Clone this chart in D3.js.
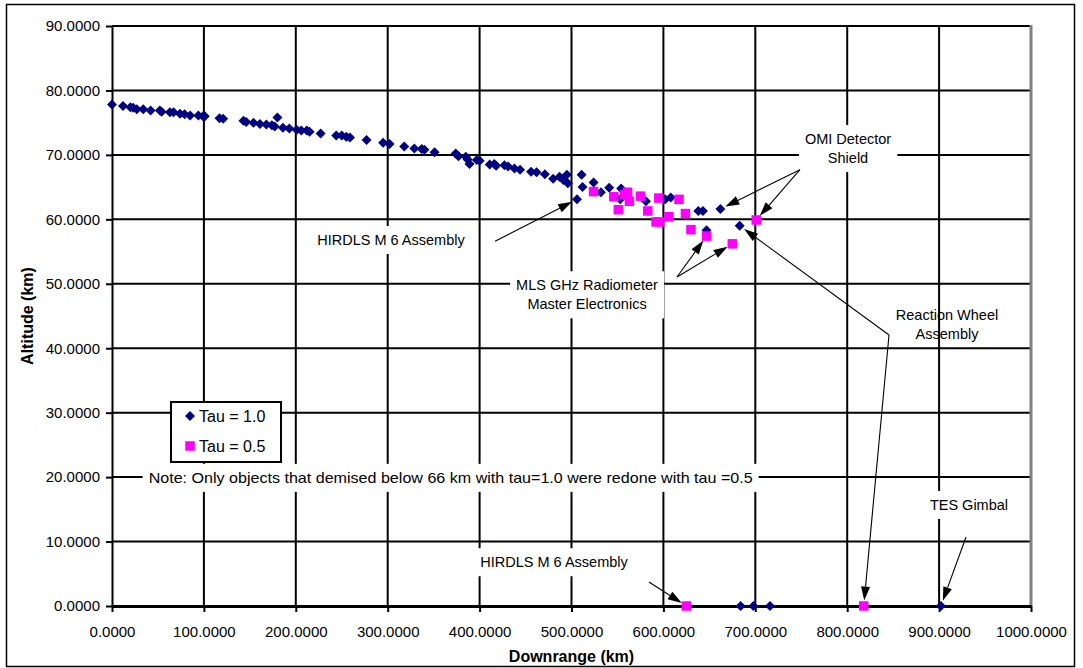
<!DOCTYPE html>
<html><head><meta charset="utf-8">
<script src="https://cdn.jsdelivr.net/npm/d3@7/dist/d3.min.js"></script>
<style>
html,body{margin:0;padding:0;background:#fff;}
svg{display:block;font-family:"Liberation Sans",Arial,Helvetica,sans-serif;}
</style></head><body>
<svg id="chart" width="1083" height="668"></svg>
<script>
// ---------------- data ----------------
const xTicks = [0,100,200,300,400,500,600,700,800,900,1000];
const yTicks = [0,10,20,30,40,50,60,70,80,90];

// Tau = 1.0 series (downrange km, altitude km)
const tau10Km  = [0,12,20,23,27,34,42,52,54,63,67,74,79,85,94,99,101,117,121,143,146,154,161,168,174,177,180,186,193,201,206,212,215,227,244,250,255,259,277,295,302,318,329,337,340,351,374,377,385,387,389,397,400,411,416,418,427,431,438,444,456,462,471,480,487,491,495,496,506,511,512,524,532,541,553,554,581,602,608,638,643,647,662,683,684,698,716,902];
const tau10Alt = [77.8,77.6,77.4,77.3,77.1,77.1,76.9,76.9,76.7,76.6,76.6,76.4,76.3,76.1,76.1,76.0,76.0,75.7,75.6,75.3,75.1,75.0,74.8,74.7,74.6,74.4,75.8,74.2,74.1,73.9,73.8,73.8,73.6,73.3,73.0,73.0,72.8,72.7,72.3,71.9,71.7,71.3,71.0,70.9,70.8,70.4,70.2,69.8,69.7,69.3,68.6,69.2,69.1,68.5,68.6,68.3,68.4,68.2,67.9,67.7,67.4,67.3,67.0,66.3,66.6,66.1,66.9,65.6,63.1,66.9,65.0,65.7,64.2,64.9,63.1,64.8,62.8,63.1,63.4,61.3,61.3,58.3,61.6,59.0,0,0,0,0];

// Tau = 0.5 series
const tau05Km  = [524,546,551,558,561,563,575,583,592,595,596,606,617,624,630,647,675,701,625,818];
const tau05Alt = [64.3,63.5,61.5,63.8,64.2,62.8,63.6,61.3,59.6,63.3,59.6,60.4,63.1,60.9,58.4,57.4,56.2,59.9,0,0];

const seriesNames = ["Tau = 1.0","Tau = 0.5"];

// annotation labels: text lines, label centre (km, alt), arrow origin (km, alt), targets [km, alt]
const annTexts   = [["HIRDLS M 6 Assembly"],["MLS GHz Radiometer","Master Electronics"],["OMI Detector","Shield"],["Reaction Wheel","Assembly"],["TES Gimbal"],["HIRDLS M 6 Assembly"],["Note: Only objects that demised below 66 km with tau=1.0 were redone with tau =0.5"]];
const annCenter  = [[303.6,56.8],[516.9,48.3],[800.9,71.0],[908.6,43.7],[932.5,15.7],[481,6.8],[368.5,19.9]];
const annBoxed   = [true,true,true,false,true,true,true];
const annOrigin  = [[416.8,56.6],[614.8,51.05],[748.6,67.7],[845.5,42.05],[929.3,10.7],[584.3,3.72],null];
const annTargets = [[[506,63.1]],[[647,57.4],[675,56.2]],[[662,61.6],[701,59.9]],[[683,59.0],[818,0]],[[902,0]],[[625,0]],[]];

// ---------------- drawing ----------------
const svg = d3.select("#chart");
const x = d3.scaleLinear().domain([0,1000]).range([112,1031]);
const y = d3.scaleLinear().domain([0,90]).range([606,26]);

svg.append("rect").attr("x",6.5).attr("y",4.5).attr("width",1068).attr("height",662)
  .attr("fill","#fff").attr("stroke","#000").attr("stroke-width",1.5);

// gridlines
const grid = svg.append("g");
grid.selectAll(".vg").data(xTicks.filter(d=>d>0 && d<1000)).join("line")
  .attr("x1",d=>x(d)).attr("x2",d=>x(d)).attr("y1",y(0)).attr("y2",y(90))
  .attr("stroke","#000").attr("stroke-width",2);
grid.selectAll(".hg").data(yTicks.filter(d=>d>0)).join("line")
  .attr("x1",x(0)).attr("x2",x(1000)).attr("y1",d=>y(d)).attr("y2",d=>y(d))
  .attr("stroke","#000").attr("stroke-width",2);
grid.append("line").attr("x1",x(1000)).attr("x2",x(1000)).attr("y1",y(90)-1).attr("y2",y(0))
  .attr("stroke","#808080").attr("stroke-width",3);

// axes
const fmt = d3.format(".4f");
const yAxisG = svg.append("g").attr("transform",`translate(${x(0)},0)`)
  .call(d3.axisLeft(y).tickValues(yTicks).tickFormat(fmt).tickSize(6).tickSizeOuter(0).tickPadding(6));
const xAxisG = svg.append("g").attr("transform",`translate(0,${y(0)})`)
  .call(d3.axisBottom(x).tickValues(xTicks).tickFormat(fmt).tickSize(6).tickSizeOuter(0).tickPadding(14));
[yAxisG,xAxisG].forEach(g=>{
  g.select(".domain").attr("stroke","#000");
  g.selectAll(".tick line").attr("stroke","#000").attr("stroke-width",2);
  g.selectAll("text").attr("fill","#000").attr("font-family","'Liberation Sans',Arial,sans-serif");
});
yAxisG.select(".domain").attr("stroke-width",2);
xAxisG.select(".domain").attr("stroke-width",3);
yAxisG.selectAll("text").attr("font-size",15);
xAxisG.selectAll("text").attr("font-size",15);

// axis titles
svg.append("text").attr("transform",`translate(27,${(y(0)+y(90))/2}) rotate(-90)`)
  .attr("text-anchor","middle").attr("dy","0.35em").attr("font-size",16).attr("font-weight","bold")
  .text("Altitude (km)");
svg.append("text").attr("x",(x(0)+x(1000))/2).attr("y",656).attr("dy","0.35em")
  .attr("text-anchor","middle").attr("font-size",16).attr("font-weight","bold").text("Downrange (km)");

// marker shapes
const R = 5, S = 9.5;
const diamond = `M0,${-R}L${R},0L0,${R}L${-R},0Z`;

// annotations (boxes + text + arrows)
const annG = svg.append("g");
const arrowG = svg.append("g");
function arrow(x1,y1,x2,y2){
  const dx=x2-x1, dy=y2-y1, L=Math.hypot(dx,dy), ux=dx/L, uy=dy/L;
  const tx=x2-ux*5.5, ty=y2-uy*5.5;            // stop at marker edge
  const hl=14, hw=4.5;
  const bx=tx-ux*hl, by=ty-uy*hl;
  arrowG.append("line").attr("x1",x1).attr("y1",y1).attr("x2",bx).attr("y2",by)
    .attr("stroke","#000").attr("stroke-width",1.1);
  arrowG.append("path").attr("d",`M${tx},${ty}L${bx-uy*hw},${by+ux*hw}L${bx+uy*hw},${by-ux*hw}Z`).attr("fill","#000");
}
annTexts.forEach((lines,i)=>{
  const cx = x(annCenter[i][0]), cy = y(annCenter[i][1]);
  const lh = 19;
  const g = annG.append("g");
  const box = g.append("rect").attr("fill","#fff");
  const fs = i===6 ? 14.5 : 14.5;
  lines.forEach((t,j)=>{
    const tt = g.append("text").attr("x",cx).attr("y",cy+(j-(lines.length-1)/2)*lh).attr("dy","0.35em")
      .attr("text-anchor","middle").attr("font-size",fs).attr("fill","#000").text(t);
    if(i===6) tt.attr("textLength",604).attr("lengthAdjust","spacingAndGlyphs");
  });
  if(annBoxed[i]){
    const bb = g.node().getBBox();
    box.attr("x",bb.x-6).attr("y",bb.y-6).attr("width",bb.width+12).attr("height",bb.height+12);
  } else box.remove();
  if(annOrigin[i]){
    const ox=x(annOrigin[i][0]), oy=y(annOrigin[i][1]);
    annTargets[i].forEach(t=>arrow(ox,oy,x(t[0]),y(t[1])));
  }
});

// data points
svg.append("g").selectAll("path").data(d3.range(tau10Km.length)).join("path")
  .attr("d",diamond).attr("transform",i=>`translate(${x(tau10Km[i])},${y(tau10Alt[i])})`)
  .attr("fill","#000080");
svg.append("g").selectAll("rect").data(d3.range(tau05Km.length)).join("rect")
  .attr("x",i=>x(tau05Km[i])-S/2).attr("y",i=>y(tau05Alt[i])-S/2).attr("width",S).attr("height",S)
  .attr("fill","#FF00FF");

// legend
const leg = svg.append("g");
leg.append("rect").attr("x",171).attr("y",402).attr("width",110).attr("height",60)
  .attr("fill","#fff").attr("stroke","#000").attr("stroke-width",2);
leg.append("path").attr("d",diamond).attr("transform","translate(190,416)").attr("fill","#000080");
leg.append("rect").attr("x",190-S/2).attr("y",446-S/2).attr("width",S).attr("height",S).attr("fill","#FF00FF");
seriesNames.forEach((n,i)=>{
  leg.append("text").attr("x",199).attr("y",416+i*30).attr("dy","0.36em").attr("font-size",16)
    .attr("fill","#000").text(n);
});
</script>
</body></html>
